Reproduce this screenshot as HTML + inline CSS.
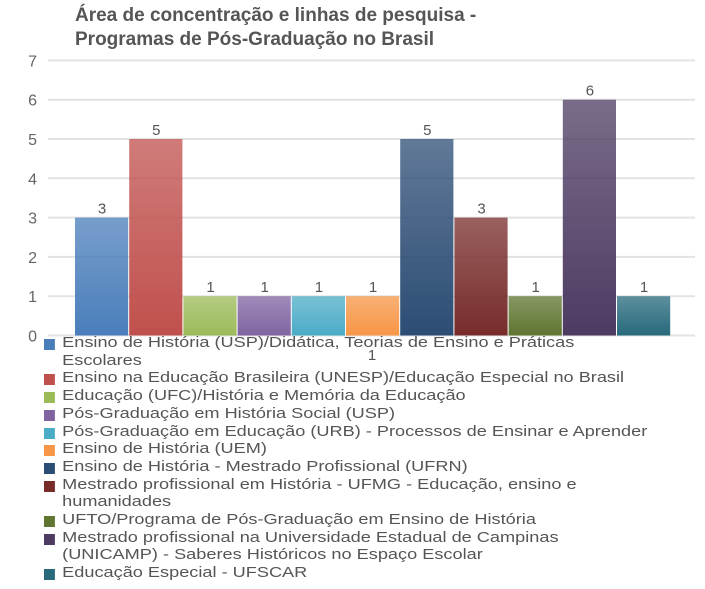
<!DOCTYPE html>
<html><head><meta charset="utf-8"><style>
body{margin:0;background:#fff;font-family:"Liberation Sans",sans-serif;}
#wrap{position:relative;width:705px;height:589px;overflow:hidden}
.title{position:absolute;left:75px;top:4px;font-size:19px;font-weight:bold;color:#555;line-height:24px;white-space:nowrap}
.leg{position:absolute;left:44px;top:334px;font-size:15px;color:#555;line-height:17.7px;width:503px;transform:scaleX(1.21);transform-origin:0 0}
.li{position:relative;padding-left:15px}
.sw{position:absolute;left:0;top:5px;width:9px;height:11px}
</style></head><body>
<div id="wrap">
<div class="title">Área de concentração e linhas de pesquisa -<br>Programas de Pós-Graduação no Brasil</div>
<svg id="svg" width="705" height="589" style="position:absolute;left:0;top:0"></svg>
<div class="leg" id="leg"></div>
</div>
<script>
const categories=["Ensino de História (USP)/Didática, Teorias de Ensino e Práticas Escolares","Ensino na Educação Brasileira (UNESP)/Educação Especial no Brasil","Educação (UFC)/História e Memória da Educação","Pós-Graduação em História Social (USP)","Pós-Graduação em Educação (URB) - Processos de Ensinar e Aprender","Ensino de História (UEM)","Ensino de História - Mestrado Profissional (UFRN)","Mestrado profissional em História - UFMG - Educação, ensino e humanidades","UFTO/Programa de Pós-Graduação em Ensino de História","Mestrado profissional na Universidade Estadual de Campinas (UNICAMP) - Saberes Históricos no Espaço Escolar","Educação Especial - UFSCAR"];
const values=[3,5,1,1,1,1,5,3,1,6,1];
const yTicks=[0,1,2,3,4,5,6,7];
const colors=["#4a7ebb","#c0504d","#9bbb59","#8064a2","#4bacc6","#f79646","#2c4d75","#772c2a","#5f7530","#4d3b62","#276a7c"];
const NS="http://www.w3.org/2000/svg";
const svg=document.getElementById('svg');
const y0=335.5,unit=39.3,x0=75,bw=54.2;
const yS=v=>y0-v*unit, xS=i=>x0+i*bw;
function mk(t,a){const e=document.createElementNS(NS,t);for(const k in a)e.setAttribute(k,a[k]);svg.appendChild(e);return e;}
const defs=mk('defs',{});
yTicks.forEach(t=>{
 const l=mk('line',{x1:48,x2:695,y1:yS(t),y2:yS(t),stroke:'#e3e3e3','stroke-width':2});
 
 
 const tx=mk('text',{x:37,y:yS(t)+6,'text-anchor':'end','font-size':16,fill:'#666'});
 tx.textContent=t;
 
 
});
values.forEach((v,i)=>{
 const g=document.createElementNS(NS,'linearGradient');
 g.setAttribute('id','g'+i);g.setAttribute('x1',0);g.setAttribute('x2',0);g.setAttribute('y1',0);g.setAttribute('y2',1);
 g.innerHTML='<stop offset="0" stop-color="'+colors[i]+'" stop-opacity="0.75"/><stop offset="1" stop-color="'+colors[i]+'"/>';
 defs.appendChild(g);
 const r=mk('rect',{x:xS(i),y:yS(v),width:bw-1,height:v*unit,fill:'url(#g'+i+')'});
 
 
 const t=mk('text',{x:xS(i)+bw/2,y:yS(v)-4,'text-anchor':'middle','font-size':15,fill:'#555'});
 t.textContent=v;
 
 
});
const x1=mk('text',{x:372,y:360,'text-anchor':'middle','font-size':15,fill:'#555'});
x1.textContent='1';


const leg=document.getElementById('leg');
categories.forEach((c,i)=>{
 const d=document.createElement('div');d.className='li';
 d.innerHTML='<span class="sw" style="background:'+colors[i]+'"></span>'+c;
 
 
 leg.appendChild(d);
});
</script>
</body></html>
